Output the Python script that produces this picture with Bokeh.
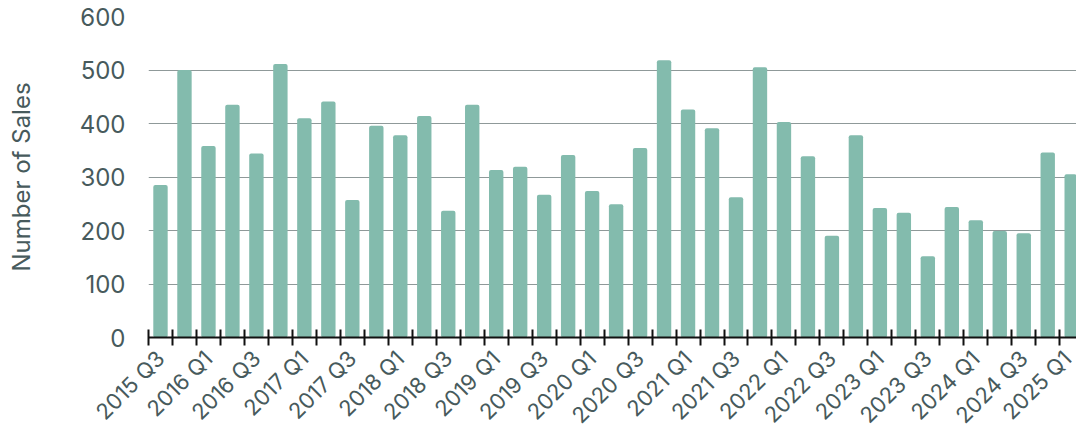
from bokeh.plotting import figure
from bokeh.models import FixedTicker, Range1d
from bokeh.embed import file_html
from bokeh.resources import INLINE
from math import pi

quarters = [
    "2015 Q3", "2015 Q4",
    "2016 Q1", "2016 Q2", "2016 Q3", "2016 Q4",
    "2017 Q1", "2017 Q2", "2017 Q3", "2017 Q4",
    "2018 Q1", "2018 Q2", "2018 Q3", "2018 Q4",
    "2019 Q1", "2019 Q2", "2019 Q3", "2019 Q4",
    "2020 Q1", "2020 Q2", "2020 Q3", "2020 Q4",
    "2021 Q1", "2021 Q2", "2021 Q3", "2021 Q4",
    "2022 Q1", "2022 Q2", "2022 Q3", "2022 Q4",
    "2023 Q1", "2023 Q2", "2023 Q3", "2023 Q4",
    "2024 Q1", "2024 Q2", "2024 Q3", "2024 Q4",
    "2025 Q1",
]
sales = [
    285, 500,
    358, 435, 344, 511,
    410, 441, 257, 396,
    378, 414, 237, 435,
    313, 319, 267, 341,
    274, 249, 354, 518,
    426, 391, 262, 505,
    403, 339, 190, 378,
    242, 233, 152, 244,
    219, 199, 195, 346,
    305,
]
y_ticks = [0, 100, 200, 300, 400, 500, 600]

FONT = "Inter"
TEXT = "#475a5c"
BAR = "#83bbad"

xs = list(range(len(quarters)))

p = figure(width=1076, height=440, output_backend="svg", toolbar_location=None,
           x_range=Range1d(-0.5, len(quarters) - 0.8), y_range=Range1d(0, 600),
           min_border_left=148, min_border_right=0, min_border_top=16,
           min_border_bottom=103)
p.outline_line_color = None
p.background_fill_color = "white"
p.border_fill_color = "white"

p.vbar(x=xs, top=sales, width=0.6, color=BAR, line_color=None, border_radius=2)

# x axis: tick marks at the bar boundaries, labels on every other bar
label_pos = xs[::2]
p.xaxis.ticker = FixedTicker(ticks=label_pos,
                             minor_ticks=[i - 0.5 for i in range(len(quarters) + 1)])
p.xaxis.major_label_overrides = {i: quarters[i] for i in label_pos}
p.xaxis.major_label_orientation = pi / 4
p.xaxis.major_tick_line_color = None
p.xaxis.major_tick_out = 0
p.xaxis.major_tick_in = 0
p.xaxis.major_label_standoff = 9
p.xaxis.minor_tick_line_color = "#111111"
p.xaxis.minor_tick_line_width = 2
p.xaxis.minor_tick_in = 8
p.xaxis.minor_tick_out = 8
p.xaxis.axis_line_color = "#111111"
p.xaxis.axis_line_width = 2
p.xaxis.major_label_text_font = FONT
p.xaxis.major_label_text_font_size = "22px"
p.xaxis.major_label_text_color = TEXT

# y axis
p.yaxis.ticker = FixedTicker(ticks=y_ticks)
p.yaxis.axis_line_color = None
p.yaxis.major_tick_line_color = None
p.yaxis.minor_tick_line_color = None
p.yaxis.major_tick_out = 0
p.yaxis.major_tick_in = 0
p.yaxis.major_label_standoff = 23
p.yaxis.major_label_text_font = FONT
p.yaxis.major_label_text_font_size = "24px"
p.yaxis.major_label_text_color = TEXT
p.yaxis.axis_label = "Number of Sales"
p.yaxis.axis_label_text_font = FONT
p.yaxis.axis_label_text_font_size = "24px"
p.yaxis.axis_label_text_font_style = "normal"
p.yaxis.axis_label_text_color = TEXT
p.yaxis.axis_label_standoff = 41

p.xgrid.grid_line_color = None
p.ygrid.grid_line_color = "#8f9999"
p.ygrid.grid_line_width = 1

open("out.html", "w").write(file_html(p, INLINE))
